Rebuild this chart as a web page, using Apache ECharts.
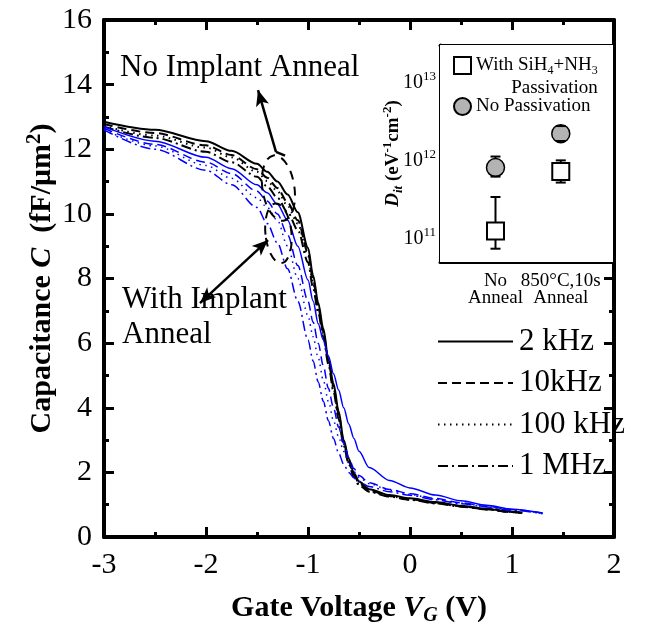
<!DOCTYPE html>
<html>
<head>
<meta charset="utf-8">
<script src="https://cdn.jsdelivr.net/npm/echarts@6/dist/echarts.min.js"></script>
<style>
html, body { margin: 0; padding: 0; background: #fff; }
#main { width: 652px; height: 640px; }
</style>
</head>
<body>
<div id="main"></div>
<script>
var FONT = '"Liberation Serif", "Times New Roman", serif'

// gate voltage (V)
var vNoImp = [-3, -2.5, -2, -1.75, -1.5, -1.4, -1.3, -1.2, -1.1, -1.0, -0.95, -0.9, -0.85, -0.8, -0.75, -0.7, -0.65, -0.6, -0.55, -0.5, -0.4, -0.2, 0, 0.25, 0.5, 0.75, 1.0, 1.1]
var vImp = [-3, -2.5, -2, -1.75, -1.5, -1.4, -1.3, -1.2, -1.1, -1.0, -0.95, -0.9, -0.85, -0.8, -0.75, -0.7, -0.65, -0.6, -0.55, -0.5, -0.4, -0.2, 0, 0.25, 0.5, 0.75, 1.0, 1.3]

// capacitance (fF/um^2), no implant anneal (black)
var cNo2k = [12.85, 12.6, 12.25, 11.95, 11.55, 11.3, 11.0, 10.6, 10.05, 8.95, 8.1, 7.25, 6.45, 5.5, 4.75, 3.9, 3.0, 2.42, 1.98, 1.72, 1.48, 1.3, 1.2, 1.08, 0.97, 0.87, 0.78, 0.75]
var cNo10k = [12.78, 12.5, 12.12, 11.82, 11.38, 11.12, 10.8, 10.35, 9.8, 8.8, 7.95, 7.1, 6.35, 5.45, 4.65, 3.8, 2.92, 2.35, 1.92, 1.66, 1.44, 1.27, 1.17, 1.06, 0.95, 0.86, 0.77, 0.74]
var cNo100k = [12.72, 12.42, 12.05, 11.75, 11.3, 11.02, 10.7, 10.25, 9.7, 8.7, 7.85, 7.05, 6.3, 5.4, 4.6, 3.75, 2.88, 2.3, 1.9, 1.64, 1.42, 1.26, 1.16, 1.05, 0.95, 0.86, 0.77, 0.74]
var cNo1M = [12.7, 12.35, 11.92, 11.6, 11.15, 10.85, 10.5, 10.05, 9.5, 8.5, 7.7, 6.95, 6.2, 5.35, 4.5, 3.65, 2.82, 2.25, 1.85, 1.6, 1.4, 1.25, 1.15, 1.04, 0.94, 0.85, 0.77, 0.74]

// with implant anneal (blue)
var cIm2k = [12.7, 12.25, 11.75, 11.4, 10.9, 10.65, 10.3, 9.8, 9.0, 7.95, 7.3, 6.6, 6.1, 5.6, 5.05, 4.55, 4.0, 3.5, 3.05, 2.65, 2.15, 1.75, 1.52, 1.3, 1.12, 0.98, 0.86, 0.74]
var cIm10k = [12.65, 12.15, 11.6, 11.25, 10.7, 10.4, 10.0, 9.35, 8.4, 7.3, 6.65, 6.0, 5.3, 4.6, 4.0, 3.4, 2.9, 2.45, 2.12, 1.9, 1.68, 1.47, 1.34, 1.19, 1.06, 0.95, 0.85, 0.74]
var cIm100k = [12.6, 12.1, 11.5, 11.1, 10.5, 10.2, 9.8, 9.0, 8.0, 6.85, 6.2, 5.55, 4.85, 4.2, 3.6, 3.1, 2.65, 2.3, 2.02, 1.85, 1.65, 1.45, 1.32, 1.17, 1.05, 0.94, 0.84, 0.73]
var cIm1M = [12.6, 12.0, 11.35, 10.9, 10.2, 9.7, 9.1, 8.3, 7.3, 6.1, 5.45, 4.8, 4.2, 3.6, 3.05, 2.6, 2.25, 2.0, 1.83, 1.72, 1.56, 1.4, 1.29, 1.15, 1.03, 0.93, 0.83, 0.72]

var freqNames = ['2 kHz', '10kHz', '100 kHz', '1 MHz']
var dashes = ['solid', [9, 5], [1.5, 4.5], [10, 4, 2, 4]]

// inset: Dit (eV^-1 cm^-2)
var insetX = [1, 2]
var insetLabels = ['No\nAnneal', '850°C,10s\nAnneal']
var ditPass = [1.25e11, 7.2e11]
var ditPassLo = [7.4e10, 5.2e11]
var ditPassHi = [3.4e11, 1.0e12]
var ditNoPass = [8.1e11, 2.2e12]
var ditNoPassLo = [6.2e11, 1.77e12]
var ditNoPassHi = [1.12e12, 2.75e12]
var passName = 'With SiH4+NH3 Passivation'
var noPassName = 'No Passivation'

function pairs(xs, ys) {
    return xs.map(function (x, i) { return [x, ys[i]] })
}

function curve(name, xs, ys, color, dash, width) {
    return {
        name: name,
        type: 'line',
        xAxisIndex: 0,
        yAxisIndex: 0,
        data: pairs(xs, ys),
        smooth: 0.3,
        smoothMonotone: 'x',
        symbol: 'none',
        silent: true,
        lineStyle: { color: color, width: width, type: dash },
        itemStyle: { color: color },
        z: 3
    }
}

// part: 'stem' (vertical line), 'caps', or 'all'
function errBars(lo, hi, part, z) {
    return {
        type: 'custom',
        xAxisIndex: 2,
        yAxisIndex: 2,
        silent: true,
        encode: { x: 0, y: [1, 2] },
        data: insetX.map(function (x, i) { return [x, lo[i], hi[i]] }),
        renderItem: function (params, api) {
            var a = api.coord([api.value(0), api.value(1)])
            var b = api.coord([api.value(0), api.value(2)])
            var w = 5
            var st = { stroke: '#000', lineWidth: 2 }
            var kids = []
            if (part !== 'caps') {
                kids.push({ type: 'line', shape: { x1: a[0], y1: a[1], x2: b[0], y2: b[1] }, style: st })
            }
            if (part !== 'stem') {
                kids.push({ type: 'line', shape: { x1: a[0] - w, y1: a[1], x2: a[0] + w, y2: a[1] }, style: st })
                kids.push({ type: 'line', shape: { x1: b[0] - w, y1: b[1], x2: b[0] + w, y2: b[1] }, style: st })
            }
            return { type: 'group', children: kids }
        },
        z: z
    }
}

var tickStyle = { color: '#000', width: 3 }
function mainX(pos, labels) {
    return {
        type: 'value', gridIndex: 0, position: pos, min: -3, max: 2, interval: 1,
        axisLine: { show: true, onZero: false, lineStyle: { color: '#000', width: 4 } },
        axisTick: { show: true, inside: true, length: 10, lineStyle: tickStyle },
        minorTick: { show: true, splitNumber: 2, length: 5, lineStyle: tickStyle },
        axisLabel: { show: labels, margin: 13, fontSize: 30, color: '#000', fontFamily: FONT },
        splitLine: { show: false }
    }
}
function mainY(pos, labels) {
    return {
        type: 'value', gridIndex: 0, position: pos, min: 0, max: 16, interval: 2,
        axisLine: { show: true, onZero: false, lineStyle: { color: '#000', width: 4 } },
        axisTick: { show: true, inside: true, length: 10, lineStyle: tickStyle },
        minorTick: { show: true, splitNumber: 2, length: 5, lineStyle: tickStyle },
        axisLabel: { show: labels, margin: 12, fontSize: 30, color: '#000', fontFamily: FONT },
        splitLine: { show: false }
    }
}
var inTick = { color: '#000', width: 2.5 }
function insetXAxis(pos, labels) {
    return {
        type: 'value', gridIndex: 1, position: pos, min: 0.15, max: 2.8,
        axisLine: { show: true, onZero: false, lineStyle: { color: '#000', width: 3 } },
        axisTick: { show: true, inside: true, length: 6, customValues: insetX, lineStyle: inTick },
        axisLabel: {
            // blank end labels take the min/max label slots, so both real labels stay
            show: labels, margin: 11, customValues: [0.2].concat(insetX, [2.75]), interval: 0,
            showMinLabel: false, showMaxLabel: false, hideOverlap: false,
            color: '#000', fontFamily: FONT, fontSize: 19, lineHeight: 17,
            formatter: function (v) {
                var i = insetX.indexOf(v)
                return i < 0 ? ' ' : insetLabels[i]
            }
        },
        splitLine: { show: false }
    }
}
function insetYAxis(pos, labels) {
    return {
        type: 'log', logBase: 10, gridIndex: 1, position: pos, min: 5e10, max: 3e13,
        axisLine: { show: true, onZero: false, lineStyle: { color: '#000', width: 3 } },
        axisTick: { show: true, inside: true, length: 6, lineStyle: inTick },
        minorTick: { show: true, splitNumber: 9, length: 3, lineStyle: { color: '#000', width: 2 } },
        axisLabel: {
            show: labels, margin: 4, showMinLabel: false, showMaxLabel: false,
            color: '#000', fontFamily: FONT, fontSize: 20,
            formatter: function (v) { return '{n|10}{sup|' + Math.round(Math.log10(v)) + '}' },
            rich: {
                n: { fontSize: 20, fontFamily: FONT, color: '#000', lineHeight: 24 },
                sup: { fontSize: 13, fontFamily: FONT, color: '#000', verticalAlign: 'top', lineHeight: 13 }
            }
        },
        splitLine: { show: false }
    }
}

var xAxes = [mainX('bottom', true), mainX('top', false), insetXAxis('bottom', true), insetXAxis('top', false)]
var yAxes = [mainY('left', true), mainY('right', false), insetYAxis('left', true), insetYAxis('right', false)]

xAxes[0].name = '{b|Gate Voltage }{bi|V}{sub|G}{b| (V)}'
xAxes[0].nameLocation = 'middle'
xAxes[0].nameGap = 53
xAxes[0].nameMoveOverlap = false
xAxes[0].nameTextStyle = {
    rich: {
        b: { fontSize: 30, fontWeight: 'bold', fontFamily: FONT, color: '#000', lineHeight: 36 },
        bi: { fontSize: 30, fontWeight: 'bold', fontStyle: 'italic', fontFamily: FONT, color: '#000', lineHeight: 36 },
        sub: { fontSize: 20, fontWeight: 'bold', fontStyle: 'italic', fontFamily: FONT, color: '#000', verticalAlign: 'bottom', lineHeight: 14 }
    }
}
yAxes[0].name = '{b|Capacitance }{bi|C}{b|  (fF/μm}{sup|2}{b|)}'
yAxes[0].nameLocation = 'middle'
yAxes[0].nameGap = 44
yAxes[0].nameMoveOverlap = false
yAxes[0].nameTextStyle = {
    rich: {
        b: { fontSize: 30, fontWeight: 'bold', fontFamily: FONT, color: '#000', lineHeight: 36 },
        bi: { fontSize: 30, fontWeight: 'bold', fontStyle: 'italic', fontFamily: FONT, color: '#000', lineHeight: 36 },
        sup: { fontSize: 21, fontWeight: 'bold', fontFamily: FONT, color: '#000', verticalAlign: 'top', lineHeight: 14 }
    }
}
yAxes[2].name = '{bi|D}{sub|it}{b| (eV}{sup|-1}{b|cm}{sup|-2}{b|)}'
yAxes[2].nameLocation = 'middle'
yAxes[2].nameGap = 35
yAxes[2].nameMoveOverlap = false
yAxes[2].nameTextStyle = {
    rich: {
        b: { fontSize: 19, fontWeight: 'bold', fontFamily: FONT, color: '#000', lineHeight: 24 },
        bi: { fontSize: 19, fontWeight: 'bold', fontStyle: 'italic', fontFamily: FONT, color: '#000', lineHeight: 24 },
        sub: { fontSize: 13, fontWeight: 'bold', fontStyle: 'italic', fontFamily: FONT, color: '#000', verticalAlign: 'bottom', lineHeight: 12 },
        sup: { fontSize: 13, fontWeight: 'bold', fontFamily: FONT, color: '#000', verticalAlign: 'top', lineHeight: 12 }
    }
}

var series = [
    curve(freqNames[0], vNoImp, cNo2k, '#000', dashes[0], 2),
    curve(freqNames[1], vNoImp, cNo10k, '#000', dashes[1], 2),
    curve(freqNames[2], vNoImp, cNo100k, '#000', dashes[2], 2),
    curve(freqNames[3], vNoImp, cNo1M, '#000', dashes[3], 2),
    curve(freqNames[0], vImp, cIm2k, '#0000ff', dashes[0], 1.5),
    curve(freqNames[1], vImp, cIm10k, '#0000ff', dashes[1], 1.5),
    curve(freqNames[2], vImp, cIm100k, '#0000ff', dashes[2], 1.5),
    curve(freqNames[3], vImp, cIm1M, '#0000ff', dashes[3], 1.5),
    errBars(ditPassLo, ditPassHi, 'all', 4),
    errBars(ditNoPassLo, ditNoPassHi, 'stem', 4),
    errBars(ditNoPassLo, ditNoPassHi, 'caps', 6),
    {
        name: passName, type: 'scatter', xAxisIndex: 2, yAxisIndex: 2,
        data: pairs(insetX, ditPass), symbol: 'rect', symbolSize: 17, silent: true,
        itemStyle: { color: '#fff', borderColor: '#000', borderWidth: 2, opacity: 1 }, z: 5
    },
    {
        name: noPassName, type: 'scatter', xAxisIndex: 2, yAxisIndex: 2,
        data: pairs(insetX, ditNoPass), symbol: 'circle', symbolSize: 18, silent: true,
        itemStyle: { color: '#b3b3b3', borderColor: '#000', borderWidth: 1.5, opacity: 1 }, z: 5
    },
    {
        // annotation arrows, in data coordinates
        type: 'line', xAxisIndex: 0, yAxisIndex: 0, data: [], silent: true,
        markLine: {
            silent: true, animation: false, symbolSize: [10, 16],
            label: { show: false },
            lineStyle: { color: '#000', width: 2.5, type: 'solid' },
            emphasis: { disabled: true },
            data: [
                [{ coord: [-1.314, 11.92], symbol: 'none' }, { coord: [-1.49, 13.83], symbol: 'arrow' }],
                [{ coord: [-1.314, 11.92], symbol: 'none' }, { coord: [-1.225, 11.8], symbol: 'none' }],
                [{ coord: [-1.392, 9.19], symbol: 'arrow' }, { coord: [-2.059, 7.24], symbol: 'arrow' }]
            ]
        }
    }
]

var option = {
    animation: false,
    backgroundColor: '#fff',
    grid: [
        { left: 104, right: 38, top: 20, bottom: 103 },
        { left: 440, top: 45, width: 173, height: 217, show: true, backgroundColor: '#fff', borderWidth: 0, z: 4 }
    ],
    xAxis: xAxes,
    yAxis: yAxes,
    legend: [
        {
            orient: 'vertical', left: 437, top: 326, padding: 0, itemGap: 10.5,
            itemWidth: 75, itemHeight: 12, selectedMode: false,
            itemStyle: { opacity: 0 },
            data: freqNames,
            textStyle: { fontSize: 31, lineHeight: 31, fontFamily: FONT, color: '#000', padding: [0, 0, 0, 1] }
        },
        {
            orient: 'vertical', left: 453, top: 31, padding: 0, itemGap: -5,
            itemWidth: 17, itemHeight: 17, selectedMode: false, z: 6,
            data: [
                { name: passName, textStyle: { padding: [23, 0, 0, 0] } },
                { name: noPassName }
            ],
            formatter: function (name) {
                return name === passName ? 'With SiH{s|4}+NH{s|3}\n{r|Passivation}' : 'No Passivation'
            },
            textStyle: {
                fontSize: 19, lineHeight: 23, fontFamily: FONT, color: '#000',
                rich: {
                    s: { fontSize: 12, fontFamily: FONT, color: '#000', verticalAlign: 'bottom', lineHeight: 12 },
                    r: { fontSize: 19, fontFamily: FONT, color: '#000', align: 'right', lineHeight: 23 }
                }
            }
        }
    ],
    series: series
}

var chart = echarts.init(document.getElementById('main'))
chart.setOption(option)

// dashed ellipses around the knees, placed from data coordinates
function px(p) { return chart.convertToPixel({ xAxisIndex: 0, yAxisIndex: 0 }, p) }
var e1 = px([-1.29, 10.8])
var e2 = px([-1.29, 9.4])
var textFont = '31px ' + FONT
chart.setOption({
    graphic: [
        {
            type: 'ellipse', x: e1[0], y: e1[1], rotation: 0.15, z: 10,
            shape: { cx: 0, cy: 0, rx: 16, ry: 33 },
            style: { fill: 'none', stroke: '#000', lineWidth: 2, lineDash: [9, 7] }
        },
        {
            type: 'ellipse', x: e2[0], y: e2[1], rotation: 0.1, z: 10,
            shape: { cx: 0, cy: 0, rx: 13, ry: 30 },
            style: { fill: 'none', stroke: '#000', lineWidth: 2, lineDash: [9, 7] }
        },
        { type: 'text', left: 120, top: 52, z: 10, style: { text: 'No Implant Anneal', font: textFont, fill: '#000' } },
        { type: 'text', left: 122, top: 284, z: 10, style: { text: 'With Implant', font: textFont, fill: '#000' } },
        { type: 'text', left: 122, top: 319, z: 10, style: { text: 'Anneal', font: textFont, fill: '#000' } }
    ]
})
</script>
</body>
</html>
